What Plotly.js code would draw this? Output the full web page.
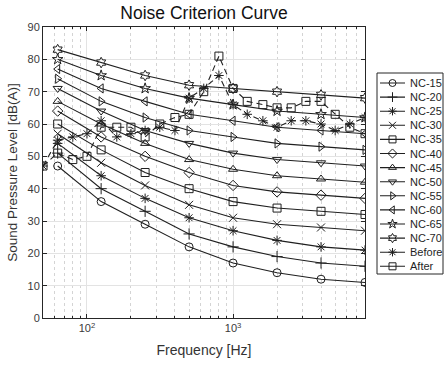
<!DOCTYPE html>
<html>
<head>
<meta charset="utf-8">
<script src="https://cdn.plot.ly/plotly-3.0.1.min.js"></script>
<style>
  html, body { margin: 0; padding: 0; background: #fff; }
  #chart { width: 445px; height: 367px; }
</style>
</head>
<body>
<div id="chart"></div>
<script>
// Octave-band centre frequencies used by the NC curves
const octaveHz = [63, 125, 250, 500, 1000, 2000, 4000, 8000];

// Noise Criterion curves, sound pressure level per octave band
const nc15 = [47, 36, 29, 22, 17, 14, 12, 11];
const nc20 = [51, 40, 33, 26, 22, 19, 17, 16];
const nc25 = [54, 44, 37, 31, 27, 24, 22, 21];
const nc30 = [57, 48, 41, 35, 31, 29, 28, 27];
const nc35 = [60, 52, 45, 40, 36, 34, 33, 32];
const nc40 = [64, 56, 50, 45, 41, 39, 38, 37];
const nc45 = [67, 60, 54, 49, 46, 44, 43, 42];
const nc50 = [71, 64, 58, 54, 51, 49, 48, 47];
const nc55 = [74, 67, 62, 58, 56, 54, 53, 52];
const nc60 = [77, 71, 67, 63, 61, 59, 58, 57];
const nc65 = [80, 75, 71, 68, 66, 64, 63, 62];
const nc70 = [83, 79, 75, 72, 71, 70, 69, 68];

// One-third-octave measurements
const thirdOctHz = [50, 63, 80, 100, 125, 160, 200, 250, 315, 400, 500, 630,
                    800, 1000, 1250, 1600, 2000, 2500, 3150, 4000, 5000, 6300, 8000];
const before = [47, 55, 56, 57, 61, 56, 57, 58, 59, 58, 68, 71,
                75, 66, 63, 61, 59, 61, 61, 60, 58, 60, 62];
const after  = [47, 51, 49, 50, 59, 59, 59, 56, 60, 62, 63, 70,
                81, 71, 67, 66, 65, 65, 67, 67, 63, 59, 57];

// Axis tick labels
const xTickVals = [100, 1000];
const xTickText = ['10<sup>2</sup>', '10<sup>3</sup>'];
const xMinorVals = [60, 70, 80, 90, 200, 300, 400, 500, 600, 700, 800, 900,
                    2000, 3000, 4000, 5000, 6000, 7000, 8000];

const ncNames = ['NC-15', 'NC-20', 'NC-25', 'NC-30', 'NC-35', 'NC-40',
                 'NC-45', 'NC-50', 'NC-55', 'NC-60', 'NC-65', 'NC-70'];
const ncLevels = [nc15, nc20, nc25, nc30, nc35, nc40, nc45, nc50, nc55, nc60, nc65, nc70];
const ncSymbols = ['circle-open', 'cross-thin-open', 'asterisk-open', 'x-thin-open',
                   'square-open', 'diamond-open', 'triangle-up-open', 'triangle-down-open',
                   'triangle-right-open', 'triangle-left-open', 'star-open', 'hexagram-open'];

const ink = '#1f1f1f';
const W = 445, H = 367;
const plotL = 43, plotR = 365, plotT = 27, plotB = 318;

const traces = [];

ncLevels.forEach((lv, i) => {
  traces.push({
    x: octaveHz, y: lv, name: ncNames[i], type: 'scatter', mode: 'lines+markers',
    line: { color: ink, width: 1.1 },
    marker: { symbol: ncSymbols[i], size: 8, color: ink, line: { color: ink, width: 1 } },
    showlegend: false
  });
});

traces.push({
  x: thirdOctHz, y: before, name: 'Before', type: 'scatter', mode: 'lines+markers',
  line: { color: ink, width: 1.1, dash: '6px,4px' },
  marker: { symbol: 'asterisk-open', size: 8, color: ink, line: { color: ink, width: 1 } },
  showlegend: false
});
traces.push({
  x: thirdOctHz, y: after, name: 'After', type: 'scatter', mode: 'lines+markers',
  line: { color: ink, width: 1.1, dash: '6px,4px' },
  marker: { symbol: 'square-open', size: 8, color: ink, line: { color: ink, width: 1 } },
  showlegend: false
});

// Compact boxed legend drawn on its own small axes
const legNames = ncNames.concat(['Before', 'After']);
const legSymbols = ncSymbols.concat(['asterisk-open', 'square-open']);
const legendTop = 83, legendStep = 14.1;
const annotations = [];
legNames.forEach((nm, i) => {
  traces.push({
    x: [0, 0.5, 1], y: [i, i, i], xaxis: 'x2', yaxis: 'y2', type: 'scatter',
    mode: 'lines+markers', hoverinfo: 'skip', showlegend: false,
    line: { color: ink, width: 1.1 },
    marker: { symbol: legSymbols[i], size: 7, color: ink, opacity: [0, 1, 0],
              line: { color: ink, width: 1 } }
  });
  annotations.push({
    text: nm, x: 408 / W, xref: 'paper', xanchor: 'left',
    y: i, yref: 'y2', yanchor: 'middle', showarrow: false,
    font: { family: 'Liberation Sans, Arial, sans-serif', size: 11, color: ink }
  });
});

const y2lo = legendTop - legendStep * 0.5;
const y2hi = legendTop + legendStep * (legNames.length - 0.5);

const layout = {
  width: W, height: H,
  margin: { l: 0, r: 0, t: 0, b: 0 },
  paper_bgcolor: '#ffffff', plot_bgcolor: '#ffffff',
  font: { family: 'Liberation Sans, Arial, sans-serif', color: '#3a3a3a', size: 11 },
  title: {
    text: 'Noise Criterion Curve', x: (plotL + plotR) / 2 / W, xanchor: 'center',
    y: 1 - 13 / H, yanchor: 'middle', yref: 'container',
    font: { size: 17.5, color: '#111' }
  },
  xaxis: {
    type: 'log', domain: [plotL / W, plotR / W], anchor: 'y',
    range: [Math.log10(50), Math.log10(8000)],
    tickmode: 'array', tickvals: xTickVals, ticktext: xTickText,
    ticks: 'inside', ticklen: 4, tickcolor: '#262626',
    showline: true, linecolor: '#262626', linewidth: 1, mirror: 'ticks',
    showgrid: true, gridcolor: '#e3e3e3', zeroline: false,
    minor: { tickmode: 'array', tickvals: xMinorVals, ticks: 'inside', ticklen: 2,
             tickcolor: '#262626', showgrid: true, gridcolor: '#d4d4d4', griddash: 'dot' },
    tickfont: { size: 11, color: '#3a3a3a' },
    title: { text: 'Frequency [Hz]', font: { size: 14, color: '#333' }, standoff: 11 }
  },
  yaxis: {
    domain: [1 - plotB / H, 1 - plotT / H], anchor: 'x',
    range: [0, 90], dtick: 10, tick0: 0,
    ticks: 'inside', ticklen: 4, tickcolor: '#262626',
    showline: true, linecolor: '#262626', linewidth: 1, mirror: 'ticks',
    showgrid: true, gridcolor: '#e3e3e3', zeroline: false,
    tickfont: { size: 11, color: '#3a3a3a' },
    title: { text: 'Sound Pressure Level [dB(A)]', font: { size: 13.5, color: '#333' }, standoff: 6 }
  },
  xaxis2: {
    domain: [380 / W, 405 / W], anchor: 'y2', range: [0, 1],
    visible: false, fixedrange: true
  },
  yaxis2: {
    domain: [1 - (y2hi) / H, 1 - (y2lo) / H], anchor: 'x2',
    range: [legNames.length - 0.5, -0.5],
    visible: false, fixedrange: true
  },
  shapes: [{
    type: 'rect', xref: 'paper', yref: 'paper',
    x0: 377 / W, x1: 443 / W, y0: 1 - 274 / H, y1: 1 - 73 / H,
    line: { color: '#262626', width: 1 }, fillcolor: 'rgba(0,0,0,0)', layer: 'below'
  }],
  annotations: annotations,
  showlegend: false
};

Plotly.newPlot('chart', traces, layout, { displayModeBar: false, staticPlot: true });
</script>
</body>
</html>
